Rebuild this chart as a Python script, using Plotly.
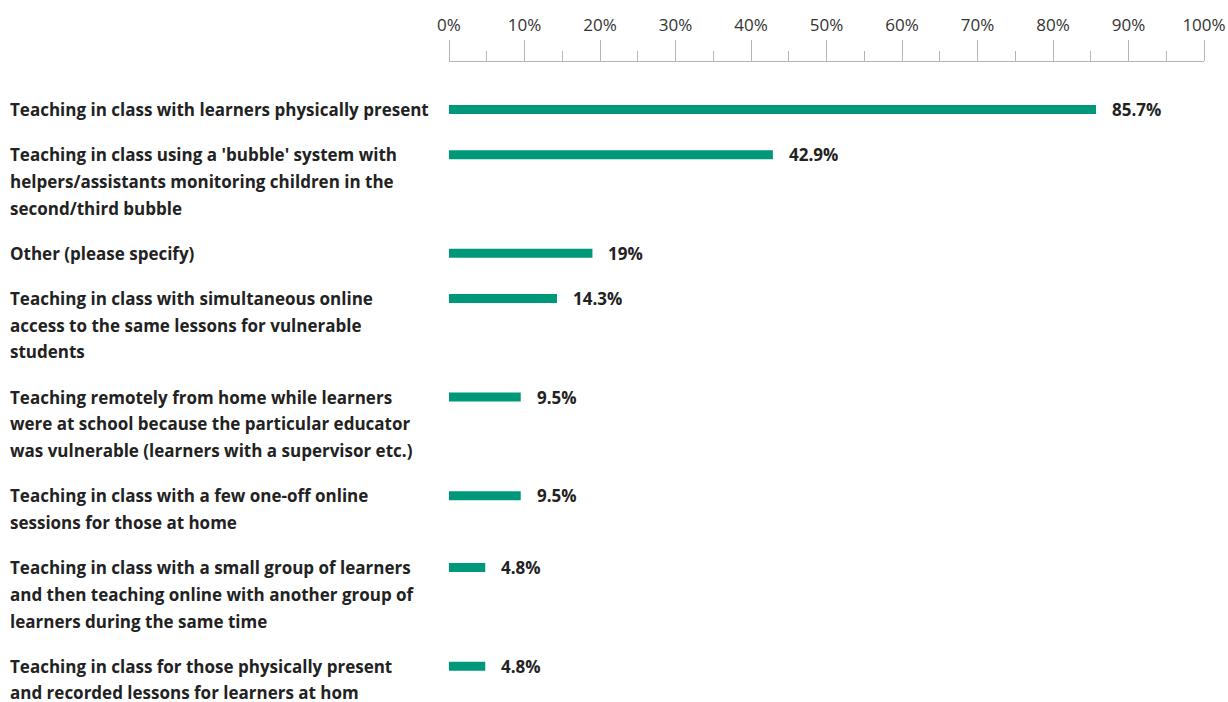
import plotly.graph_objects as go

# Survey responses: teaching arrangements (share of respondents, %)
categories = [
    "Teaching in class with learners physically present",
    "Teaching in class using a 'bubble' system with<br>helpers/assistants monitoring children in the<br>second/third bubble",
    "Other (please specify)",
    "Teaching in class with simultaneous online<br>access to the same lessons for vulnerable<br>students",
    "Teaching remotely from home while learners<br>were at school because the particular educator<br>was vulnerable (learners with a supervisor etc.)",
    "Teaching in class with a few one-off online<br>sessions for those at home",
    "Teaching in class with a small group of learners<br>and then teaching online with another group of<br>learners during the same time",
    "Teaching in class for those physically present<br>and recorded lessons for learners at hom",
]
values = [85.7, 42.9, 19, 14.3, 9.5, 9.5, 4.8, 4.8]
tick_values = list(range(0, 101, 10))
tick_labels = [f"{t}%" for t in tick_values]

BAR_COLOR = "#00987A"
TEXT_COLOR = "#222222"
FONT = "Open Sans"
W, H = 1228, 702
TOP = 62            # axis line position (px from top)
LINE_H = 26.7       # label line spacing
GAP = 18.5          # space between items
FIRST = 109.5       # centre of first row

# Row positions follow the number of label lines
rows = [c.split("<br>") for c in categories]
ypos = []
y = FIRST
for lines in rows:
    ypos.append(y)
    y += len(lines) * LINE_H + GAP

fig = go.Figure(
    go.Bar(
        x=values,
        y=ypos,
        orientation="h",
        width=9,
        marker=dict(color=BAR_COLOR, line=dict(width=0)),
        hoverinfo="skip",
    )
)

annotations = []
for lines, yc, v in zip(rows, ypos, values):
    for k, line in enumerate(lines):
        annotations.append(dict(
            x=10 / W, xref="paper", y=yc + k * LINE_H, yref="y",
            text=f"<b>{line}</b>", showarrow=False,
            xanchor="left", yanchor="middle",
            borderpad=0, borderwidth=0,
            font=dict(family=FONT, size=17, color=TEXT_COLOR),
        ))
    annotations.append(dict(
        x=v, xref="x", y=yc, yref="y", xshift=16,
        text=f"<b>{v:g}%</b>", showarrow=False,
        xanchor="left", yanchor="middle",
        borderpad=0, borderwidth=0,
        font=dict(family=FONT, size=17, color=TEXT_COLOR),
    ))

fig.update_layout(
    width=W, height=H,
    margin=dict(l=0, r=0, t=TOP, b=0, autoexpand=False),
    plot_bgcolor="white", paper_bgcolor="white",
    showlegend=False,
    annotations=annotations,
    xaxis=dict(
        domain=[449 / W, 1204 / W],
        range=[0, 100],
        side="top",
        automargin=False,
        tickmode="array",
        tickvals=tick_values,
        ticktext=tick_labels,
        ticks="outside",
        ticklen=21,
        tickwidth=1,
        tickcolor="#b5b5b5",
        ticklabelstandoff=2,
        showline=True,
        linecolor="#b5b5b5",
        linewidth=1,
        showgrid=False,
        zeroline=False,
        tickfont=dict(family=FONT, size=17, color="#333333"),
        minor=dict(dtick=5, tick0=0, ticks="outside", ticklen=10,
                   tickcolor="#b5b5b5", tickwidth=1, showgrid=False),
    ),
    yaxis=dict(
        range=[H, TOP],
        visible=False,
        fixedrange=True,
    ),
)

fig.write_html("out.html")
